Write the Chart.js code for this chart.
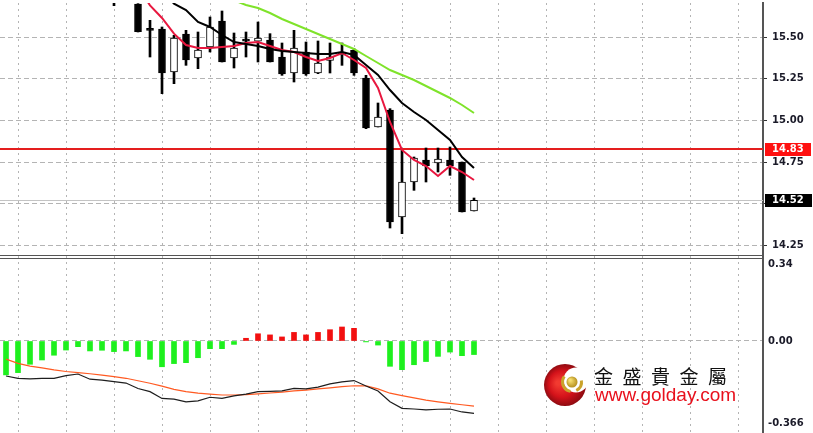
<!DOCTYPE html>
<html><head><meta charset="utf-8">
<script src="https://cdn.jsdelivr.net/npm/chart.js@4/dist/chart.umd.min.js"></script>
<style>
html,body{margin:0;padding:0;background:#fff;width:813px;height:433px;overflow:hidden}
#top{position:absolute;left:0;top:0}
#bot{position:absolute;left:0;top:256px}
</style></head><body>
<canvas id="top" width="813" height="256"></canvas>
<canvas id="bot" width="813" height="177"></canvas>
<script>
// ---------- DATA (bar index 0..39) ----------
const barIndex = [0,1,2,3,4,5,6,7,8,9,10,11,12,13,14,15,16,17,18,19,20,21,22,23,24,25,26,27,28,29,30,31,32,33,34,35,36,37,38,39];
const openP  = [null,null,null,null,null,null,null,null,null,15.80,15.76,15.698,15.545,15.548,15.29,15.518,15.374,15.44,15.596,15.374,15.485,15.475,15.482,15.38,15.284,15.41,15.284,15.36,15.392,15.42,15.254,14.96,15.062,14.42,14.63,14.762,14.744,14.762,14.75,14.456];
const highP  = [null,null,null,null,null,null,null,null,null,15.86,15.82,15.70,15.60,15.56,15.51,15.54,15.53,15.62,15.656,15.524,15.53,15.59,15.52,15.464,15.54,15.47,15.476,15.464,15.464,15.43,15.27,15.104,15.07,14.82,14.78,14.834,14.834,14.84,14.75,14.534];
const lowP   = [null,null,null,null,null,null,null,null,null,15.688,15.72,15.53,15.38,15.16,15.22,15.33,15.31,15.41,15.35,15.314,15.38,15.35,15.35,15.27,15.23,15.27,15.28,15.284,15.33,15.27,14.95,14.96,14.354,14.32,14.58,14.63,14.69,14.67,14.45,14.456];
const closeP = [null,null,null,null,null,null,null,null,null,15.76,15.80,15.532,15.54,15.284,15.494,15.362,15.422,15.56,15.35,15.434,15.475,15.494,15.35,15.278,15.434,15.278,15.344,15.38,15.41,15.284,14.954,15.02,14.39,14.63,14.774,14.726,14.768,14.726,14.45,14.52];
const maFast = [null,null,null,null,null,null,null,null,null,null,null,15.80,15.69,15.614,15.52,15.452,15.434,15.434,15.44,15.446,15.464,15.47,15.446,15.422,15.41,15.38,15.356,15.374,15.404,15.362,15.314,15.194,14.99,14.822,14.762,14.726,14.666,14.726,14.69,14.642];
const maMid  = [null,null,null,null,null,null,null,null,null,null,null,null,null,15.78,15.70,15.662,15.59,15.56,15.512,15.47,15.458,15.446,15.428,15.416,15.41,15.404,15.398,15.398,15.41,15.392,15.332,15.272,15.182,15.104,15.05,15.002,14.942,14.882,14.78,14.714];
const maSlow = [null,null,null,null,null,null,null,null,null,null,null,null,null,null,null,null,null,null,15.77,15.72,15.692,15.674,15.644,15.608,15.578,15.548,15.518,15.488,15.458,15.428,15.386,15.344,15.302,15.272,15.242,15.206,15.17,15.134,15.092,15.044];
const histogram = [-0.150,-0.140,-0.103,-0.084,-0.063,-0.040,-0.025,-0.044,-0.041,-0.047,-0.044,-0.069,-0.081,-0.114,-0.100,-0.096,-0.074,-0.034,-0.034,-0.015,0.012,0.032,0.027,0.018,0.038,0.027,0.038,0.050,0.062,0.056,-0.004,-0.018,-0.112,-0.127,-0.105,-0.091,-0.068,-0.049,-0.065,-0.060];
const macdLine   = [-0.155,-0.165,-0.168,-0.165,-0.165,-0.153,-0.146,-0.169,-0.173,-0.180,-0.186,-0.210,-0.224,-0.254,-0.257,-0.269,-0.265,-0.249,-0.254,-0.243,-0.235,-0.224,-0.223,-0.221,-0.210,-0.212,-0.204,-0.190,-0.181,-0.175,-0.199,-0.221,-0.269,-0.298,-0.301,-0.305,-0.302,-0.301,-0.314,-0.320];
const signalLine = [-0.080,-0.099,-0.111,-0.119,-0.128,-0.135,-0.140,-0.145,-0.151,-0.158,-0.165,-0.176,-0.187,-0.200,-0.214,-0.224,-0.231,-0.235,-0.239,-0.239,-0.237,-0.234,-0.230,-0.226,-0.221,-0.217,-0.212,-0.207,-0.202,-0.198,-0.199,-0.212,-0.231,-0.242,-0.252,-0.262,-0.269,-0.276,-0.282,-0.288];
const priceTicks = [14.25,14.50,14.75,15.00,15.25,15.50];
const macdTicks = [-0.366,0,0.34];
const gridSlots = [1,5,9,13,17,21,25,29,33,37,41,45,49,53,57,61];
const levelPrice = 14.83;
const lastPrice = 14.52;
const brandName = '金盛貴金屬';
const siteUrl = 'www.golday.com';

// ---------- STYLE ----------
const FONT = 'DejaVu Sans';
const GRID = '#b4b4b4';
const LABEL = '#1a1a28';
const XMIN = -0.5, XMAX = 63.083;
const P_MAX = 15.704, P_MIN = 14.186;
const M_MAX = 0.3761, M_MIN = -0.4071;

function xAxis(){
  return { type:'linear', position:'bottom', min:XMIN, max:XMAX, offset:false,
    afterBuildTicks: s => { s.ticks = gridSlots.map(v => ({value:v})); },
    afterFit: s => { s.height = 0; s.paddingLeft = 0; s.paddingRight = 0; },
    ticks:{display:false, autoSkip:false},
    grid:{color:GRID, lineWidth:1, drawTicks:false, offset:false},
    border:{display:false, dash:[2,4]} };
}
const pts = arr => barIndex.map(i => ({x:i, y:arr[i]}));
const candles = barIndex.filter(i => openP[i] !== null);
const isUp = i => closeP[i] >= openP[i];

const common = { responsive:false, animation:false, devicePixelRatio:1, events:[],
  plugins:{legend:{display:false}, tooltip:{enabled:false}} };

const bgPlugin = { id:'bg', beforeDraw(ch){ const c=ch.ctx; c.save(); c.fillStyle='#fff'; c.fillRect(0,0,ch.width,ch.height); c.restore(); } };

const topPlugin = {
  id:'topDeco',
  beforeDatasetsDraw(ch){
    const c = ch.ctx, a = ch.chartArea, y = ch.scales.y;
    c.save();
    const yl = Math.round(y.getPixelForValue(lastPrice)) + 0.5;
    c.strokeStyle = '#c4c4c4'; c.lineWidth = 1;
    c.beginPath(); c.moveTo(a.left, yl); c.lineTo(a.right, yl); c.stroke();
    const yr = Math.round(y.getPixelForValue(levelPrice));
    c.strokeStyle = '#e41e1e'; c.lineWidth = 2;
    c.beginPath(); c.moveTo(a.left, yr); c.lineTo(a.right, yr); c.stroke();
    c.restore();
  },
  afterDraw(ch){
    const c = ch.ctx, a = ch.chartArea, y = ch.scales.y;
    c.save();
    c.strokeStyle = '#555'; c.lineWidth = 1;
    c.beginPath(); c.moveTo(0, 255.5); c.lineTo(a.right, 255.5); c.stroke();
    c.font = 'bold 10px "' + FONT + '"'; c.textBaseline = 'middle'; c.textAlign = 'left';
    const yr = y.getPixelForValue(levelPrice);
    c.fillStyle = '#ff1010'; c.fillRect(a.right + 2, Math.round(yr) - 6, 46, 13);
    c.fillStyle = '#fff'; c.fillText(levelPrice.toFixed(2), a.right + 9, yr + 0.5);
    const yl = y.getPixelForValue(lastPrice);
    c.fillStyle = '#000'; c.fillRect(a.right + 2, Math.round(yl) - 6, 47, 13);
    c.fillStyle = '#fff'; c.fillText(lastPrice.toFixed(2), a.right + 9, yl + 0.5);
    c.restore();
  }
};

new Chart(document.getElementById('top'), {
  type:'bar',
  data:{ datasets:[
    { type:'line', data:pts(maSlow), borderColor:'#7fe32a', borderWidth:2, pointRadius:0, order:0 },
    { type:'line', data:pts(maMid), borderColor:'#000', borderWidth:2, pointRadius:0, order:0 },
    { type:'line', data:pts(maFast), borderColor:'#e8173f', borderWidth:2, pointRadius:0, order:0 },
    { data:candles.map(i => ({x:i, y:[openP[i], closeP[i]]})), grouped:false, barThickness:7, minBarLength:2,
      backgroundColor: ctx => isUp(ctx.raw.x) ? '#fff' : '#000', borderColor:'#000', borderWidth:1, borderSkipped:false, order:1 },
    { data:candles.map(i => ({x:i, y:[lowP[i], highP[i]]})), grouped:false, barThickness:2,
      backgroundColor:'#000', borderWidth:0, order:2 }
  ]},
  options:Object.assign({}, common, {
    layout:{padding:{top:3, left:0, right:0, bottom:0}},
    scales:{
      x: xAxis(),
      y: { type:'linear', position:'right', min:P_MIN, max:P_MAX,
        afterBuildTicks: s => { s.ticks = priceTicks.map(v => ({value:v})); },
        afterFit: s => { s.width = 50; s.paddingTop = 0; s.paddingBottom = 0; },
        ticks:{ autoSkip:false, padding:5, color:LABEL, font:{family:FONT, size:10, weight:'bold'}, callback: v => Number(v).toFixed(2) },
        grid:{ color:GRID, lineWidth:1, tickColor:'#333', tickLength:4, tickBorderDash:[] },
        border:{ display:true, color:'#555', width:2, dash:[5,3] } }
    }
  }),
  plugins:[bgPlugin, topPlugin]
});

const botPlugin = {
  id:'botDeco',
  beforeDatasetsDraw(ch){
    const c = ch.ctx, oy = -256;
    c.save();
    const g = c.createRadialGradient(558, 383+oy, 2, 565, 385+oy, 22);
    g.addColorStop(0, '#f23a30'); g.addColorStop(0.55, '#d4121a'); g.addColorStop(1, '#860a10');
    c.fillStyle = g; c.beginPath(); c.arc(565, 385+oy, 21, 0, Math.PI*2); c.fill();
    c.fillStyle = '#fff'; c.beginPath(); c.arc(576, 380+oy, 12.5, 0, Math.PI*2); c.fill();
    c.strokeStyle = '#caa22a'; c.lineWidth = 3;
    c.beginPath(); c.arc(572, 382+oy, 9.5, 0.55*Math.PI, 1.2*Math.PI); c.stroke();
    c.beginPath(); c.arc(572, 382+oy, 9.5, -0.05*Math.PI, 0.35*Math.PI); c.stroke();
    const gb = c.createRadialGradient(570, 380+oy, 1, 572, 382+oy, 6);
    gb.addColorStop(0, '#f6de70'); gb.addColorStop(1, '#b08a18');
    c.fillStyle = gb; c.beginPath(); c.arc(572, 382+oy, 5.5, 0, Math.PI*2); c.fill();
    c.fillStyle = '#111'; c.font = '19px "Noto Sans CJK TC"'; c.textBaseline = 'middle'; c.textAlign = 'left';
    [...brandName].forEach((ch2, k) => c.fillText(ch2, 594 + k*28.5, 377+oy));
    c.fillStyle = '#e8101c'; c.font = '19px "Liberation Sans"';
    c.fillText(siteUrl, 595, 396+oy);
    c.restore();
  },
  afterDraw(ch){
    const c = ch.ctx, a = ch.chartArea;
    c.save(); c.strokeStyle = '#555'; c.lineWidth = 1;
    c.beginPath(); c.moveTo(0, 2.5); c.lineTo(a.right, 2.5); c.stroke(); c.restore();
  }
};

new Chart(document.getElementById('bot'), {
  type:'bar',
  data:{ datasets:[
    { type:'line', data:pts(macdLine), borderColor:'#1e1e1e', borderWidth:1.2, pointRadius:0, order:0 },
    { type:'line', data:pts(signalLine), borderColor:'#ff5a22', borderWidth:1.2, pointRadius:0, order:0 },
    { data:pts(histogram), grouped:false, barThickness:5, borderWidth:0,
      backgroundColor: ctx => ctx.raw.y >= 0 ? '#f21010' : '#1ef01e', order:1 }
  ]},
  options:Object.assign({}, common, {
    layout:{padding:0},
    scales:{
      x: xAxis(),
      y: { type:'linear', position:'right', min:M_MIN, max:M_MAX,
        afterBuildTicks: s => { s.ticks = macdTicks.map(v => ({value:v})); },
        afterFit: s => { s.width = 50; s.paddingTop = 0; s.paddingBottom = 0; },
        ticks:{ autoSkip:false, padding:5, color:LABEL, font:{family:FONT, size:10, weight:'bold'},
          callback: v => v === 0 ? '0.00' : String(v) },
        grid:{ color: ctx => (ctx.tick && ctx.tick.value === 0) ? GRID : 'rgba(0,0,0,0)', lineWidth:1, drawTicks:false },
        border:{ display:true, color:'#555', width:2, dash:[5,3] } }
    }
  }),
  plugins:[bgPlugin, botPlugin]
});
</script>
</body></html>
